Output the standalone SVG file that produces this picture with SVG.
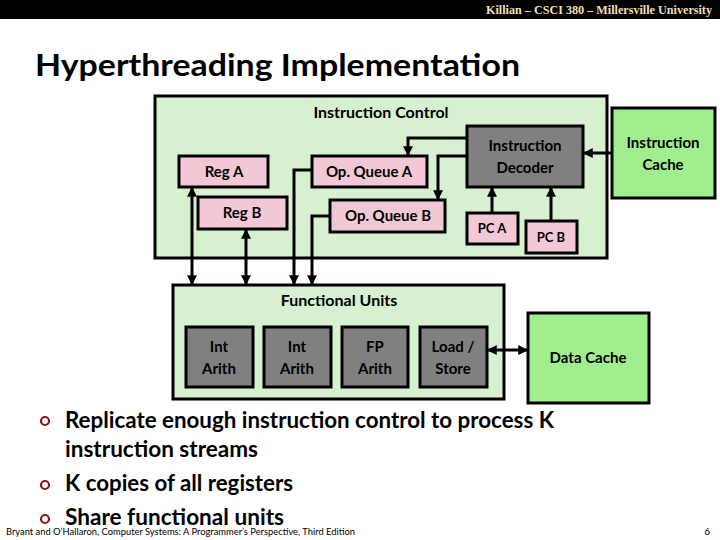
<svg xmlns="http://www.w3.org/2000/svg" width="720" height="540" viewBox="0 0 720 540">
<defs>
<style>
.t{font-family:Lato,"Open Sans","Liberation Sans",sans-serif;font-weight:bold;fill:#000;text-anchor:middle}
.box{stroke:#000;stroke-width:3}
.ctl{fill:#D6F0D0}
.reg{fill:#F2C8D4}
.gray{fill:#808080}
.cache{fill:#A0EE8E}
.c{fill:none;stroke:#000;stroke-width:3}
.bul{fill:none;stroke:#8B1A1A;stroke-width:2.2}
.bt{font-family:Lato,"Open Sans","Liberation Sans",sans-serif;font-weight:bold;font-size:22px;fill:#000}
</style>
<marker id="ah" markerUnits="userSpaceOnUse" markerWidth="10" markerHeight="10" viewBox="0 0 8 8" refX="7" refY="4" orient="auto-start-reverse">
<path d="M0,0 L8,4 L0,8 z" fill="#000"/>
</marker>
</defs>
<rect x="0" y="0" width="720" height="540" fill="#fff"/>
<rect x="0" y="0" width="720" height="19" fill="#000"/>
<text x="712" y="14" font-family="Liberation Serif,serif" font-weight="bold" font-size="12.5" fill="#F3DFB0" text-anchor="end" textLength="226" lengthAdjust="spacingAndGlyphs">Killian – CSCI 380 – Millersville University</text>
<text x="35" y="76" font-family="Lato,'Open Sans','Liberation Sans',sans-serif" font-weight="bold" font-size="31" textLength="485" lengthAdjust="spacingAndGlyphs">Hyperthreading Implementation</text>

<g id="instruction-control">
<rect class="box ctl" x="155" y="96" width="452" height="162"/>
<text class="t" x="381" y="118" font-size="16">Instruction Control</text>
</g>
<g id="reg-a"><rect class="box reg" x="179" y="156" width="89" height="31"/><text class="t" x="224" y="177" font-size="15">Reg A</text></g>
<g id="reg-b"><rect class="box reg" x="198" y="197" width="89" height="32"/><text class="t" x="242" y="218" font-size="15">Reg B</text></g>
<g id="op-queue-a"><rect class="box reg" x="312" y="156" width="115" height="31"/><text class="t" x="369" y="177" font-size="15">Op. Queue A</text></g>
<g id="op-queue-b"><rect class="box reg" x="330" y="200" width="115" height="32"/><text class="t" x="388" y="221" font-size="15">Op. Queue B</text></g>
<g id="instruction-decoder"><rect class="box gray" x="467" y="126" width="116" height="61"/><text class="t" x="525" y="151" font-size="15">Instruction</text><text class="t" x="525" y="173" font-size="15">Decoder</text></g>
<g id="pc-a"><rect class="box reg" x="467" y="213" width="51" height="31"/><text class="t" x="492" y="233" font-size="13">PC A</text></g>
<g id="pc-b"><rect class="box reg" x="526" y="221" width="51" height="32"/><text class="t" x="551" y="242" font-size="13">PC B</text></g>
<g id="instruction-cache"><rect class="box cache" x="612" y="108" width="103" height="90"/><text class="t" x="663" y="148" font-size="15">Instruction</text><text class="t" x="663" y="170" font-size="15">Cache</text></g>

<g id="functional-units">
<rect class="box ctl" x="173" y="285" width="331" height="114"/>
<text class="t" x="339" y="306" font-size="16">Functional Units</text>
</g>
<g id="int-arith-1"><rect class="box gray" x="186" y="327" width="67" height="60"/><text class="t" x="219" y="352" font-size="15">Int</text><text class="t" x="219" y="374" font-size="15">Arith</text></g>
<g id="int-arith-2"><rect class="box gray" x="264" y="327" width="67" height="60"/><text class="t" x="297" y="352" font-size="15">Int</text><text class="t" x="297" y="374" font-size="15">Arith</text></g>
<g id="fp-arith"><rect class="box gray" x="342" y="327" width="66" height="60"/><text class="t" x="375" y="352" font-size="15">FP</text><text class="t" x="375" y="374" font-size="15">Arith</text></g>
<g id="load-store"><rect class="box gray" x="420" y="327" width="67" height="60"/><text class="t" x="453" y="352" font-size="15">Load /</text><text class="t" x="453" y="374" font-size="15">Store</text></g>
<g id="data-cache"><rect class="box cache" x="528" y="313" width="121" height="90"/><text class="t" x="588" y="363" font-size="15">Data Cache</text></g>

<g id="connectors">
<path class="c" d="M612,153 H584" marker-end="url(#ah)"/>
<path class="c" d="M492,213 V188" marker-end="url(#ah)"/>
<path class="c" d="M551,221 V188" marker-end="url(#ah)"/>
<path class="c" d="M467,138 H408 V155" marker-end="url(#ah)"/>
<path class="c" d="M467,156 H438 V199" marker-end="url(#ah)"/>
<path class="c" d="M192,188 V284" marker-start="url(#ah)" marker-end="url(#ah)"/>
<path class="c" d="M246,230 V284" marker-start="url(#ah)" marker-end="url(#ah)"/>
<path class="c" d="M312,170 H294 V284" marker-end="url(#ah)"/>
<path class="c" d="M330,216 H312 V284" marker-end="url(#ah)"/>
<path class="c" d="M488,350 H527" marker-start="url(#ah)" marker-end="url(#ah)"/>
</g>

<g id="bullets">
<circle class="bul" cx="45" cy="421" r="4"/>
<circle class="bul" cx="45" cy="485" r="4"/>
<circle class="bul" cx="45" cy="519" r="4"/>
<text class="bt" x="65" y="428" textLength="489" lengthAdjust="spacingAndGlyphs">Replicate enough instruction control to process K</text>
<text class="bt" x="65" y="457" textLength="193" lengthAdjust="spacingAndGlyphs">instruction streams</text>
<text class="bt" x="65" y="491" textLength="228" lengthAdjust="spacingAndGlyphs">K copies of all registers</text>
<text class="bt" x="65" y="525" textLength="219" lengthAdjust="spacingAndGlyphs">Share functional units</text>
</g>
<text x="6" y="535" font-family="Lato,'Open Sans','Liberation Sans',sans-serif" font-size="9" textLength="349" lengthAdjust="spacingAndGlyphs">Bryant and O’Hallaron, Computer Systems: A Programmer’s Perspective, Third Edition</text>
<text x="710" y="535" font-family="Lato,'Open Sans','Liberation Sans',sans-serif" font-size="10" text-anchor="end">6</text>
</svg>
